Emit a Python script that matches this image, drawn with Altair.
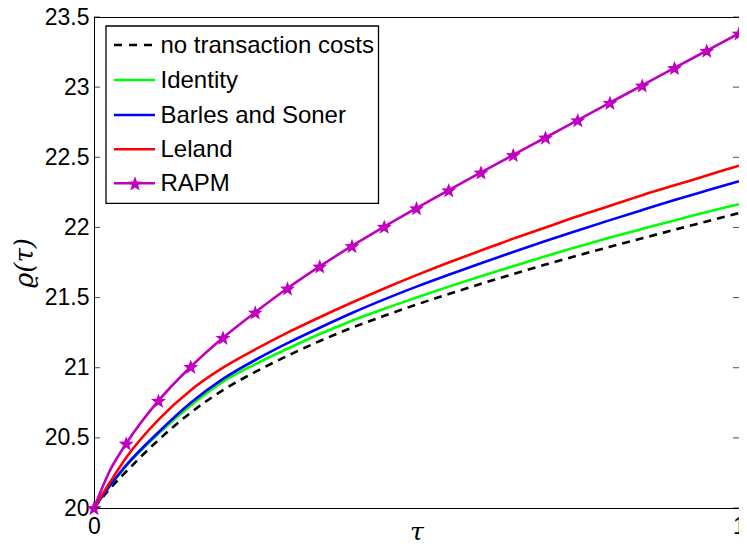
import math
import altair as alt
import pandas as pd

# ---------------- data ----------------
tau = [0, 0.025, 0.05, 0.1, 0.15, 0.2, 0.25, 0.3, 0.35, 0.4, 0.45, 0.5,
       0.55, 0.6, 0.65, 0.7, 0.75, 0.8, 0.85, 0.9, 0.95, 1.0]
no_tc = [20, 20.14, 20.26, 20.485, 20.68, 20.84, 20.97, 21.085, 21.19, 21.285,
         21.37, 21.45, 21.525, 21.598, 21.668, 21.735, 21.8, 21.862, 21.923,
         21.983, 22.043, 22.103]
identity = [20, 20.16, 20.3, 20.53, 20.73, 20.9, 21.025, 21.135, 21.24,
            21.335, 21.42, 21.5, 21.578, 21.652, 21.724, 21.795, 21.862,
            21.928, 21.99, 22.05, 22.11, 22.165]
barles_soner = [20, 20.16, 20.305, 20.54, 20.75, 20.92, 21.055, 21.175,
                21.285, 21.39, 21.487, 21.578, 21.663, 21.745, 21.825, 21.903,
                21.978, 22.052, 22.124, 22.195, 22.263, 22.33]
leland = [20, 20.185, 20.36, 20.63, 20.84, 21.0, 21.13, 21.25, 21.36, 21.465,
          21.565, 21.66, 21.75, 21.835, 21.92, 22.0, 22.08, 22.155, 22.23,
          22.3, 22.37, 22.44]
rapm = [20, 20.27, 20.46, 20.765, 21.007, 21.214, 21.395, 21.566, 21.722,
        21.868, 22.006, 22.138, 22.266, 22.392, 22.517, 22.641, 22.765, 22.889,
        23.013, 23.137, 23.26, 23.383]
rapm_marker_tau = [0, 0.05, 0.1, 0.15, 0.2, 0.25, 0.3, 0.35, 0.4, 0.45, 0.5,
                   0.55, 0.6, 0.65, 0.7, 0.75, 0.8, 0.85, 0.9, 0.95, 1.0]

series_names = ["no transaction costs", "Identity", "Barles and Soner",
                "Leland", "RAPM"]
series_colors = ["#000000", "#00FF00", "#0000FF", "#FF0000", "#BF00BF"]
series_values = [no_tc, identity, barles_soner, leland, rapm]

y_ticks = [20, 20.5, 21, 21.5, 22, 22.5, 23, 23.5]
x_ticks = [0, 1]

# ---------------- styling ----------------
W, H = 645, 491
FONT = "Liberation Sans"
TITLE_FONT = "DejaVu Serif"
LW = 2.6
DASH = [8, 6]

# five-pointed star (pentagram) marker as an SVG path in the [-1, 1] box
pts = []
for k in range(10):
    ang = math.radians(-90 + 36 * k)
    r = 1.0 if k % 2 == 0 else 0.42
    pts.append(f"{r * math.cos(ang):.4f},{r * math.sin(ang) + 0.1:.4f}")
STAR = "M" + " L".join(pts) + " Z"

xscale = alt.Scale(domain=[0, 1], nice=False, zero=False)
yscale = alt.Scale(domain=[20, 23.5], nice=False, zero=False)

x_axis = alt.Axis(values=x_ticks, format="d", grid=False, ticks=False,
                  tickSize=0, domainColor="black", labelFont=FONT,
                  labelFontSize=23, labelColor="black", labelPadding=7,
                  labelFlush=False, title="τ", titleFont=TITLE_FONT,
                  titleFontStyle="italic", titleFontWeight="normal",
                  titleFontSize=25, titleColor="black", titleX=W / 2,
                  titleY=23, titleBaseline="middle", titleAlign="center")
y_axis = alt.Axis(values=y_ticks, format="~g", grid=False, ticks=False,
                  tickSize=0, domainColor="black", labelFont=FONT,
                  labelFontSize=23, labelColor="black", labelPadding=5,
                  labelFlush=False, title="ϱ(τ)", titleFont=TITLE_FONT,
                  titleFontStyle="italic", titleFontWeight="normal",
                  titleFontSize=26, titleColor="black", titleX=-70,
                  titleY=245.5, titleBaseline="middle", titleAlign="center",
                  titleAngle=270)

X = alt.X("tau:Q", scale=xscale, axis=x_axis)
Y = alt.Y("value:Q", scale=yscale, axis=y_axis)

layers = []

# curves
for name, color, vals in zip(series_names, series_colors, series_values):
    df = pd.DataFrame({"tau": tau, "value": vals})
    kw = dict(color=color, strokeWidth=LW, interpolate="monotone")
    if name == "no transaction costs":
        kw["strokeDash"] = DASH
    layers.append(alt.Chart(df).mark_line(**kw).encode(x=X, y=Y))

# RAPM star markers
marker_df = pd.DataFrame({"tau": tau, "value": rapm})
marker_df = marker_df[marker_df["tau"].isin(rapm_marker_tau)].reset_index(drop=True)
layers.append(alt.Chart(marker_df).mark_point(shape=STAR, filled=True,
                                              size=250, color="#BF00BF",
                                              opacity=1)
              .encode(x=X, y=Y))

# inward tick marks (left and right)
tick_df = pd.DataFrame({"value": y_ticks})
layers.append(alt.Chart(tick_df).mark_tick(color="black", thickness=1,
                                           size=6, orient="horizontal",
                                           xOffset=3)
              .encode(x=alt.value(0), y=Y))
layers.append(alt.Chart(tick_df).mark_tick(color="black", thickness=1,
                                           size=6, orient="horizontal",
                                           xOffset=-3)
              .encode(x=alt.value(W), y=Y))

# ---------------- legend box ----------------
one = pd.DataFrame({"a": [0]})
layers.append(alt.Chart(one).mark_rect(fill="white", stroke="black",
                                       strokeWidth=1.3)
              .encode(x=alt.value(12), x2=alt.value(284.5),
                      y=alt.value(9), y2=alt.value(186.3)))
row_y = [28, 63, 98, 132.3, 166.3]
for name, color, ry in zip(series_names, series_colors, row_y):
    kw = dict(color=color, strokeWidth=LW)
    if name == "no transaction costs":
        kw["strokeDash"] = [8, 7]
    layers.append(alt.Chart(one).mark_rule(**kw)
                  .encode(x=alt.value(20), x2=alt.value(61),
                          y=alt.value(ry), y2=alt.value(ry)))
    if name == "RAPM":
        layers.append(alt.Chart(one).mark_point(shape=STAR, filled=True,
                                                size=250, color=color,
                                                opacity=1)
                      .encode(x=alt.value(41), y=alt.value(ry)))
    layers.append(alt.Chart(one).mark_text(align="left", baseline="middle",
                                           font=FONT, fontSize=24,
                                           color="black")
                  .encode(x=alt.value(66.5), y=alt.value(ry + 1),
                          text=alt.value(name)))

chart = (alt.layer(*layers)
         .properties(width=W, height=H,
                     autosize=alt.AutoSizeParams(type="none"),
                     padding={"left": 86, "top": 9, "right": 0, "bottom": 33},
                     background="white")
         .configure_view(stroke="black", strokeWidth=1))

chart.save("out.html", embed_options={"renderer": "svg", "actions": False})
